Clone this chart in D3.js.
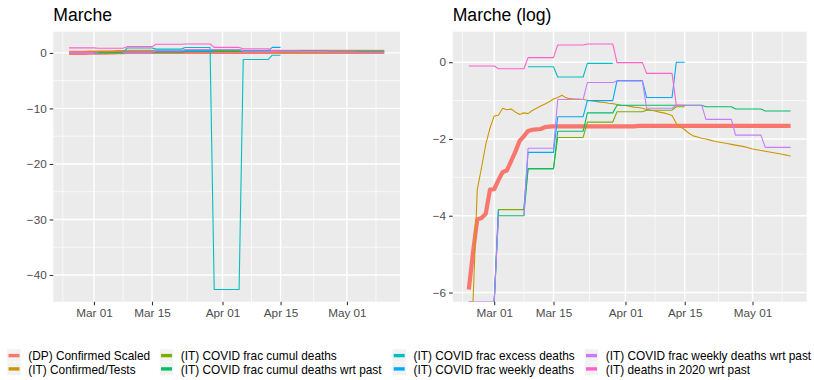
<!DOCTYPE html>
<html>
<head>
<meta charset="utf-8">
<script src="https://cdnjs.cloudflare.com/ajax/libs/d3/7.8.5/d3.min.js"></script>
<style>
body { margin: 0; background: #fff; }
text { font-family: "Liberation Sans", Arial, Helvetica, sans-serif; }
</style>
</head>
<body>
<script>
var svg_width  = 814;
var svg_height = 380;

var N = null, NI = -Infinity;   // NI = log(0), drawn on the panel edge like ggplot does

// one value per day, 2020-02-24 .. 2020-05-10
var firstDay = "2020-02-24";
var lastDay  = "2020-05-10";

var seriesNames = [
    "(DP) Confirmed Scaled",
    "(IT) Confirmed/Tests",
    "(IT) COVID frac cumul deaths",
    "(IT) COVID frac cumul deaths wrt past",
    "(IT) COVID frac excess deaths",
    "(IT) COVID frac weekly deaths",
    "(IT) COVID frac weekly deaths wrt past",
    "(IT) deaths in 2020 wrt past"];
var seriesColors = ["#F8766D", "#CD9600", "#7CAE00", "#00BE67", "#00BFC4", "#00A9FF", "#C77CFF", "#FF61CC"];

// natural log values
var confirmedScaled = [
    -5.92,-4.95,-4.10,-4.06,-3.95,-3.32,-3.31,-3.07,-2.86,-2.82,
    -2.58,-2.33,-2.05,-1.93,-1.79,-1.76,-1.75,-1.74,-1.69,-1.68,
    -1.67,-1.67,-1.67,-1.67,-1.67,-1.67,-1.67,-1.67,-1.67,-1.67,
    -1.67,-1.67,-1.67,-1.67,-1.67,-1.67,-1.67,-1.67,-1.67,-1.67,
    -1.66,-1.66,-1.66,-1.66,-1.66,-1.66,-1.66,-1.66,-1.66,-1.66,
    -1.66,-1.66,-1.66,-1.66,-1.66,-1.66,-1.66,-1.66,-1.66,-1.66,
    -1.66,-1.66,-1.66,-1.66,-1.66,-1.66,-1.66,-1.66,-1.66,-1.66,
    -1.66,-1.66,-1.66,-1.66,-1.66,-1.66,-1.66];
var confirmedTests = [
    NI,NI,-3.32,-2.75,-2.15,-1.72,-1.40,-1.38,-1.20,-1.24,
    -1.22,-1.30,-1.36,-1.32,-1.34,-1.26,-1.20,-1.14,-1.09,-1.03,
    -0.96,-0.92,-0.86,-0.93,-0.95,-0.96,-0.96,-0.97,-0.99,-1.00,
    -1.02,-1.04,-1.05,-1.07,-1.08,-1.10,-1.12,-1.13,-1.15,-1.17,
    -1.18,-1.20,-1.23,-1.25,-1.27,-1.30,-1.32,-1.35,-1.39,-1.60,
    -1.68,-1.76,-1.85,-1.92,-1.95,-1.98,-2.00,-2.03,-2.06,-2.08,
    -2.10,-2.12,-2.14,-2.16,-2.18,-2.20,-2.23,-2.26,-2.28,-2.30,
    -2.32,-2.34,-2.36,-2.38,-2.40,-2.42,-2.45];
var cumulDeaths = [
    N,N,N,N,N,N,NI,-3.84,-3.84,-3.84,
    -3.84,-3.84,-3.84,-3.84,-2.77,-2.77,-2.77,-2.77,-2.77,-2.77,
    -2.77,-1.96,-1.96,-1.96,-1.96,-1.96,-1.96,-1.96,-1.56,-1.56,
    -1.56,-1.56,-1.56,-1.56,-1.56,-1.29,-1.29,-1.29,-1.29,-1.29,
    -1.29,-1.29,-1.25,-1.25,-1.25,-1.25,-1.25,-1.25,-1.25,-1.16,
    -1.16,-1.16];
var cumulDeathsPast = [
    N,N,N,N,N,N,NI,-4.00,-4.00,-4.00,
    -4.00,-4.00,-4.00,-4.00,-2.78,-2.78,-2.78,-2.78,-2.78,-2.78,
    -2.78,-1.80,-1.80,-1.80,-1.80,-1.80,-1.80,-1.80,-1.32,-1.32,
    -1.32,-1.32,-1.32,-1.32,-1.32,-1.12,-1.12,-1.12,-1.12,-1.12,
    -1.12,-1.12,-1.12,-1.12,-1.12,-1.12,-1.12,-1.12,-1.12,-1.12,
    -1.12,-1.12,-1.12,-1.12,-1.12,-1.12,-1.16,-1.16,-1.16,-1.16,
    -1.16,-1.16,-1.16,-1.22,-1.22,-1.22,-1.22,-1.22,-1.22,-1.22,
    -1.27,-1.27,-1.27,-1.27,-1.27,-1.27,-1.27];
// plain ratio: its negative part only shows on the linear panel
var excessDeaths = [
    N,N,N,N,N,N,N,N,N,N,
    N,N,N,-0.02,0.89,0.89,0.89,0.89,0.89,0.89,
    0.89,0.68,0.68,0.68,0.68,0.68,0.68,0.68,0.97,0.97,
    0.97,0.97,0.97,0.97,0.97,-42.6,-42.6,-42.6,-42.6,-42.6,
    -42.6,-42.6,-1.19,-1.19,-1.19,-1.19,-1.19,-1.19,-1.19,-0.41,
    -0.41,-0.41];
var weeklyDeaths = [
    N,N,N,N,N,N,NI,-3.84,N,N,
    N,N,N,-3.84,-2.35,-2.35,-2.35,-2.35,-2.35,-2.35,
    -2.35,-1.42,-1.42,-1.42,-1.42,-1.42,-1.42,-1.42,-1.00,-1.00,
    -1.00,-1.00,-1.00,-1.00,-1.00,-0.48,-0.48,-0.48,-0.48,-0.48,
    -0.48,-0.48,-0.92,-0.92,-0.92,-0.92,-0.92,-0.92,-0.92,0.00,
    0.00,0.00];
var weeklyDeathsPast = [
    NI,NI,NI,NI,NI,NI,NI,-4.00,N,N,
    N,N,N,-4.00,-2.24,-2.24,-2.24,-2.24,-2.24,-2.24,
    -2.24,-0.97,-0.97,-0.97,-0.97,-0.97,-0.97,-0.97,-0.53,-0.53,
    -0.53,-0.53,-0.53,-0.53,-0.53,-0.49,-0.49,-0.49,-0.49,-0.49,
    -0.49,-0.49,-1.20,-1.20,-1.20,-1.20,-1.20,-1.20,-1.20,-1.12,
    -1.12,-1.12,-1.12,-1.12,-1.12,-1.12,-1.49,-1.49,-1.49,-1.49,
    -1.49,-1.49,-1.49,-1.90,-1.90,-1.90,-1.90,-1.90,-1.90,-1.90,
    -2.22,-2.22,-2.22,-2.22,-2.22,-2.22,-2.22];
var deaths2020Past = [
    -0.10,-0.10,-0.10,-0.10,-0.10,-0.10,-0.10,-0.17,-0.17,-0.17,
    -0.17,-0.17,-0.17,-0.17,0.12,0.12,0.12,0.12,0.12,0.12,
    0.12,0.45,0.45,0.45,0.45,0.45,0.45,0.45,0.475,0.475,
    0.475,0.475,0.475,0.475,0.475,-0.01,-0.01,-0.01,-0.01,-0.01,
    -0.01,-0.01,-0.29,-0.29,-0.29,-0.29,-0.29,-0.29,-0.29,-1.12,
    -1.12,-1.12];

var seriesValues = [confirmedScaled, confirmedTests, cumulDeaths, cumulDeathsPast,
                    excessDeaths, weeklyDeaths, weeklyDeathsPast, deaths2020Past];
var storedAsLog = [true, true, true, true, false, true, true, true];

// axis breaks (outer ones only feed the minor grid)
var xBreaks = ["2020-02-15", "2020-03-01", "2020-03-15", "2020-04-01", "2020-04-15", "2020-05-01", "2020-05-15"];
var linYBreaks = [-50, -40, -30, -20, -10, 0, 10];
var logYBreaks = [-8, -6, -4, -2, 0, 2];

var parseDay = d3.utcParse("%Y-%m-%d");
var days = d3.utcDay.range(parseDay(firstDay), d3.utcDay.offset(parseDay(lastDay), 1));

var series = seriesNames.map(function(name, k) {
    var vals = seriesValues[k];
    return {
        name: name,
        color: seriesColors[k],
        width: k == 0 ? 4.2 : 1.1,
        points: days.map(function(d, i) {
            var v = vals[i];
            var lin = v == null ? null : (storedAsLog[k] ? Math.exp(v) : v);
            return {date: d, lin: lin, log: (lin == null || lin < 0) ? null : Math.log(lin)};
        })
    };
});

var svg = d3.select('body').append('svg')
            .attr('width', svg_width)
            .attr('height', svg_height);

var panelTop = 31.7, panelBottom = 301.7;
var panels = [
    {title: "Marche",       x0: 53.3,  x1: 400,   key: "lin", breaks: linYBreaks},
    {title: "Marche (log)", x0: 452.7, x1: 806.7, key: "log", breaks: logYBreaks}
];

// ggplot style 5% expansion
function expand(ext) {
    var pad = (ext[1] - ext[0]) * 0.05;
    return [ext[0] - pad, ext[1] + pad];
}
function midpoints(arr) {
    var out = [];
    for (var i = 1; i < arr.length; i++) out.push((+arr[i - 1] + +arr[i]) / 2);
    return out;
}

var xMajor = xBreaks.map(parseDay);
var xMinor = midpoints(xMajor).map(function(t) { return new Date(t); });

panels.forEach(function(p, pi) {
    var key = p.key;
    var tExt = expand([+days[0], +days[days.length - 1]]);
    var x = d3.scaleUtc()
              .domain([new Date(tExt[0]), new Date(tExt[1])])
              .range([p.x0, p.x1]);

    var allVals = [];
    series.forEach(function(s) {
        s.points.forEach(function(d) { if (d[key] != null && isFinite(d[key])) allVals.push(d[key]); });
    });
    var y = d3.scaleLinear()
              .domain(expand(d3.extent(allVals)))
              .range([panelBottom, panelTop]);

    var inX = function(d) { return d >= x.domain()[0] && d <= x.domain()[1]; };
    var inY = function(v) { return v >= y.domain()[0] && v <= y.domain()[1]; };

    var g = svg.append("g");

    g.append("clipPath").attr("id", "clip" + pi)
     .append("rect")
        .attr("x", p.x0).attr("y", panelTop)
        .attr("width", p.x1 - p.x0).attr("height", panelBottom - panelTop);

    g.append("rect")
        .attr("x", p.x0).attr("y", panelTop)
        .attr("width", p.x1 - p.x0).attr("height", panelBottom - panelTop)
        .attr("fill", "#EBEBEB");

    // grid
    var yMinor = midpoints(p.breaks).filter(inY);
    var yMajor = p.breaks.filter(inY);
    g.selectAll(".ymin").data(yMinor).enter().append("line")
        .attr("x1", p.x0).attr("x2", p.x1)
        .attr("y1", d => y(d)).attr("y2", d => y(d))
        .attr("stroke", "#fff").attr("stroke-width", 0.7);
    g.selectAll(".xmin").data(xMinor.filter(inX)).enter().append("line")
        .attr("y1", panelTop).attr("y2", panelBottom)
        .attr("x1", d => x(d)).attr("x2", d => x(d))
        .attr("stroke", "#fff").attr("stroke-width", 0.7);
    g.selectAll(".ymaj").data(yMajor).enter().append("line")
        .attr("x1", p.x0).attr("x2", p.x1)
        .attr("y1", d => y(d)).attr("y2", d => y(d))
        .attr("stroke", "#fff").attr("stroke-width", 1.4);
    g.selectAll(".xmaj").data(xMajor.filter(inX)).enter().append("line")
        .attr("y1", panelTop).attr("y2", panelBottom)
        .attr("x1", d => x(d)).attr("x2", d => x(d))
        .attr("stroke", "#fff").attr("stroke-width", 1.4);

    var line = d3.line()
        .defined(d => d[key] != null)
        .x(d => x(d.date))
        .y(d => d[key] === -Infinity ? panelBottom : y(d[key]));

    g.append("g").attr("clip-path", "url(#clip" + pi + ")")
      .selectAll("path")
      .data(series)
      .enter().append("path")
        .attr("d", d => line(d.points))
        .attr("fill", "none")
        .attr("stroke", d => d.color)
        .attr("stroke-width", d => d.width)
        .attr("stroke-linejoin", "round");

    // axes
    var xAxis = g.append("g")
        .attr("transform", "translate(0," + panelBottom + ")")
        .call(d3.axisBottom(x).tickValues(xMajor.filter(inX))
                .tickFormat(d3.utcFormat("%b %d")).tickSize(3.67).tickPadding(2.93));
    var yAxis = g.append("g")
        .attr("transform", "translate(" + p.x0 + ",0)")
        .call(d3.axisLeft(y).tickValues(yMajor)
                .tickFormat(d3.format("d")).tickSize(3.67).tickPadding(2.93));
    [xAxis, yAxis].forEach(function(a) {
        a.select(".domain").remove();
        a.selectAll(".tick line").attr("stroke", "#333333").attr("stroke-width", 1.07);
        a.selectAll(".tick text").attr("fill", "#4D4D4D")
         .style("font-size", "11.73px")
         .style("font-family", '"Liberation Sans", Arial, sans-serif');
    });

    g.append("text")
        .attr("x", p.x0).attr("y", 20.6)
        .attr("fill", "#000")
        .style("font-size", "17.6px")
        .text(p.title);
});

// legend, 4 columns x 2 rows, filled column by column
var legendKeyX = [7.3, 159.8, 392.5, 584.8];
var legendBaseY = [360.2, 373.5];

var legend = svg.append("g").selectAll("g")
    .data(series)
    .enter().append("g")
    .attr("transform", function(d, i) {
        return "translate(" + legendKeyX[Math.floor(i / 2)] + "," + legendBaseY[i % 2] + ")";
    });

legend.append("rect")
    .attr("x", 0).attr("y", -11)
    .attr("width", 13.4).attr("height", 12.6)
    .attr("fill", "#F2F2F2");
legend.append("line")
    .attr("x1", 1.2).attr("x2", 12.2)
    .attr("y1", -4.6).attr("y2", -4.6)
    .attr("stroke", d => d.color)
    .attr("stroke-width", 3.4);
legend.append("text")
    .attr("x", 21).attr("y", 0)
    .attr("fill", "#000")
    .style("font-size", "11.85px")
    .text(d => d.name);
</script>
</body>
</html>
